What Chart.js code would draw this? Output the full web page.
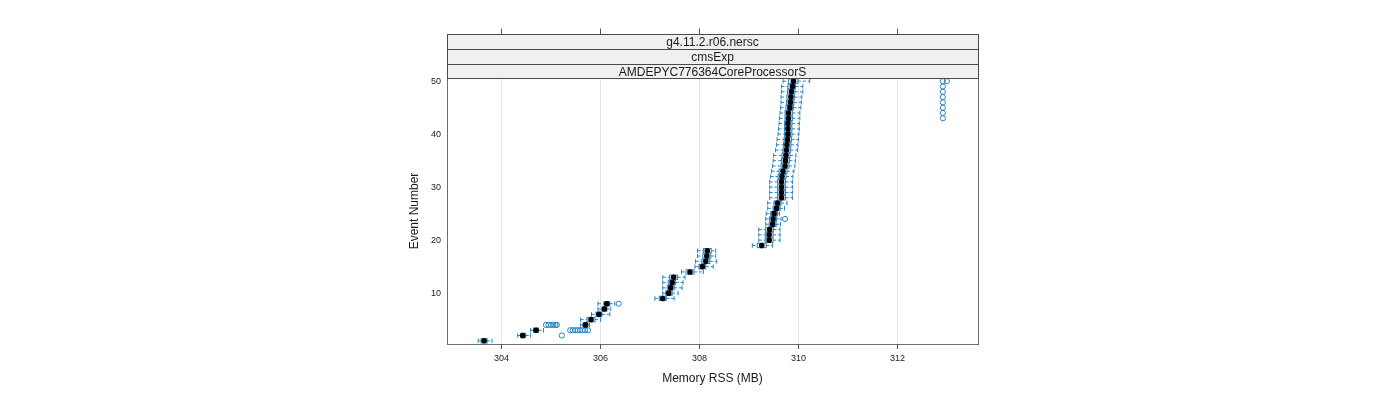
<!DOCTYPE html>
<html><head><meta charset="utf-8">
<script src="https://cdn.jsdelivr.net/npm/chart.js@4"></script>
<style>html,body{margin:0;padding:0;background:#fff}canvas{display:block}</style>
</head><body>
<canvas id="c" width="1400" height="400"></canvas>
<script>
const events = [1,2,3,4,5,6,7,8,9,10,11,12,13,14,15,16,17,18,19,20,21,22,23,24,25,26,27,28,29,30,31,32,33,34,35,36,37,38,39,40,41,42,43,44,45,46,47,48,49,50];
const medians = [303.66,304.44,304.71,305.71,305.82,305.98,306.09,306.14,307.27,307.39,307.43,307.46,307.49,307.82,308.07,308.14,308.16,308.17,309.27,309.42,309.42,309.43,309.49,309.50,309.52,309.57,309.59,309.67,309.67,309.67,309.67,309.68,309.70,309.74,309.75,309.76,309.77,309.78,309.79,309.80,309.80,309.80,309.81,309.81,309.84,309.85,309.86,309.87,309.89,309.91];
const q1 = [303.60,304.40,304.66,305.66,305.74,305.92,306.04,306.08,307.20,307.33,307.36,307.38,307.41,307.74,308.00,308.06,308.08,308.09,309.18,309.34,309.34,309.35,309.42,309.43,309.45,309.50,309.52,309.59,309.59,309.59,309.59,309.60,309.62,309.66,309.67,309.68,309.70,309.71,309.72,309.73,309.73,309.73,309.74,309.74,309.76,309.77,309.78,309.79,309.80,309.81];
const q3 = [303.72,304.50,304.76,305.75,305.90,306.04,306.14,306.20,307.34,307.46,307.50,307.53,307.57,307.90,308.14,308.22,308.24,308.25,309.36,309.50,309.50,309.51,309.56,309.57,309.59,309.64,309.66,309.75,309.75,309.75,309.75,309.76,309.78,309.82,309.83,309.84,309.85,309.86,309.87,309.88,309.88,309.88,309.89,309.89,309.91,309.92,309.93,309.94,309.95,310.00];
const whiskerLow = [303.54,304.34,304.60,305.61,305.61,305.83,305.96,305.96,307.11,307.27,307.27,307.27,307.27,307.65,307.92,307.93,307.97,307.97,309.08,309.21,309.21,309.21,309.35,309.35,309.36,309.39,309.39,309.43,309.43,309.43,309.43,309.45,309.47,309.49,309.50,309.51,309.55,309.57,309.58,309.60,309.61,309.62,309.63,309.64,309.65,309.66,309.66,309.67,309.67,309.70];
const whiskerHigh = [303.82,304.60,304.86,305.79,306.01,306.20,306.22,306.30,307.50,307.58,307.66,307.68,307.72,308.09,308.29,308.36,308.34,308.34,309.49,309.64,309.64,309.64,309.65,309.66,309.63,309.73,309.78,309.89,309.89,309.89,309.89,309.90,309.92,309.94,309.95,309.96,309.99,310.00,310.01,310.02,310.03,310.03,310.04,310.04,310.06,310.07,310.08,310.10,310.10,310.24];
const outlierEvents = [2,3,3,3,3,3,3,3,3,4,4,4,4,4,4,8,24,43,44,45,46,47,48,49,50,50];
const outlierValues = [305.23,305.40,305.45,305.50,305.55,305.60,305.65,305.70,305.76,304.91,304.96,305.01,305.06,305.10,305.13,306.38,309.74,312.93,312.93,312.93,312.93,312.93,312.93,312.93,312.93,313.01];
const xTicks = [304,306,308,310,312];
const yTicks = [10,20,30,40,50];
const stripLabels = ["g4.11.2.r06.nersc","cmsExp","AMDEPYC776364CoreProcessorS"];
const xTitle = "Memory RSS (MB)";
const yTitle = "Event Number";

const BLUE = "#2a82c0";
const FONT = "'Liberation Sans', Arial, sans-serif";

const lattice = {
  id: 'lattice',
  beforeDatasetsDraw(chart) {
    const ctx = chart.ctx, xs = chart.scales.x, ys = chart.scales.y, a = chart.chartArea;
    ctx.save();
    ctx.strokeStyle = '#e6e6e6'; ctx.lineWidth = 1;
    xTicks.forEach(t => {
      const x = Math.round(xs.getPixelForValue(t)) + 0.5;
      ctx.beginPath(); ctx.moveTo(x, a.top); ctx.lineTo(x, a.bottom); ctx.stroke();
    });
    const h = 2.2;
    ctx.strokeStyle = BLUE; ctx.lineWidth = 1;
    events.forEach((e, i) => {
      const y = ys.getPixelForValue(e);
      const wl = xs.getPixelForValue(whiskerLow[i]), b1 = xs.getPixelForValue(q1[i]);
      const b3 = xs.getPixelForValue(q3[i]), wh = xs.getPixelForValue(whiskerHigh[i]);
      ctx.setLineDash([3, 2]);
      ctx.beginPath(); ctx.moveTo(wl, y); ctx.lineTo(b1, y); ctx.moveTo(b3, y); ctx.lineTo(wh, y); ctx.stroke();
      ctx.setLineDash([]);
      ctx.beginPath(); ctx.moveTo(wl, y - h); ctx.lineTo(wl, y + h); ctx.moveTo(wh, y - h); ctx.lineTo(wh, y + h); ctx.stroke();
      ctx.strokeRect(b1, y - h, b3 - b1, 2 * h);
    });
    ctx.restore();
  },
  afterDraw(chart) {
    const ctx = chart.ctx, xs = chart.scales.x, ys = chart.scales.y, a = chart.chartArea;
    ctx.save();
    const L = Math.round(a.left) + 0.5, W = Math.round(a.right - a.left);
    ctx.strokeStyle = '#6e6e6e'; ctx.lineWidth = 1;
    ctx.strokeRect(L, Math.round(a.top) + 0.5, W, Math.round(a.bottom - a.top));
    const edges = [34.5, 49.5, 64.5, 78.5];
    stripLabels.forEach((lab, k) => {
      const top = edges[k], bot = edges[k + 1];
      ctx.fillStyle = '#f0f0f0';
      ctx.fillRect(L, top, W, bot - top);
      ctx.strokeStyle = '#4a4a4a';
      ctx.strokeRect(L, top, W, bot - top);
      ctx.fillStyle = '#1a1a1a'; ctx.font = '12px ' + FONT;
      ctx.textAlign = 'center'; ctx.textBaseline = 'middle';
      ctx.fillText(lab, (a.left + a.right) / 2, (top + bot) / 2 + 1);
    });
    const stripTop = edges[0];
    ctx.strokeStyle = '#555'; ctx.lineWidth = 1;
    ctx.fillStyle = '#1a1a1a'; ctx.font = '9px ' + FONT;
    ctx.textAlign = 'center'; ctx.textBaseline = 'middle';
    xTicks.forEach(t => {
      const x = Math.round(xs.getPixelForValue(t)) + 0.5;
      ctx.beginPath(); ctx.moveTo(x, a.bottom); ctx.lineTo(x, a.bottom + 5);
      ctx.moveTo(x, stripTop); ctx.lineTo(x, stripTop - 6); ctx.stroke();
      ctx.fillText(String(t), x, a.bottom + 15);
    });
    ctx.textAlign = 'right';
    yTicks.forEach(t => {
      const y = ys.getPixelForValue(t);
      ctx.fillText(String(t), a.left - 6, y);
    });
    ctx.font = '12px ' + FONT; ctx.textAlign = 'center';
    ctx.fillText(xTitle, (a.left + a.right) / 2, a.bottom + 35);
    ctx.translate(415, (a.top + a.bottom) / 2);
    ctx.rotate(-Math.PI / 2);
    ctx.fillText(yTitle, 0, 0);
    ctx.restore();
  }
};

new Chart(document.getElementById('c'), {
  type: 'scatter',
  data: {
    datasets: [
      { label: 'outliers', data: outlierValues.map((v, i) => ({x: v, y: outlierEvents[i]})),
        pointStyle: 'circle', pointRadius: 2.6, borderColor: BLUE, backgroundColor: 'rgba(0,0,0,0)', borderWidth: 1, order: 2 },
      { label: 'median', data: medians.map((v, i) => ({x: v, y: events[i]})),
        pointStyle: 'circle', pointRadius: 2.8, borderColor: '#000', backgroundColor: '#000', borderWidth: 0, order: 1 }
    ]
  },
  options: {
    responsive: false, animation: false, devicePixelRatio: 1,
    layout: { padding: { left: 447, right: 422, top: 78, bottom: 56 } },
    scales: {
      x: { type: 'linear', min: 302.91, max: 313.64, display: false },
      y: { type: 'linear', min: 0.4, max: 50.6, display: false }
    },
    plugins: { legend: { display: false }, tooltip: { enabled: false } }
  },
  plugins: [lattice]
});
</script>
</body></html>
